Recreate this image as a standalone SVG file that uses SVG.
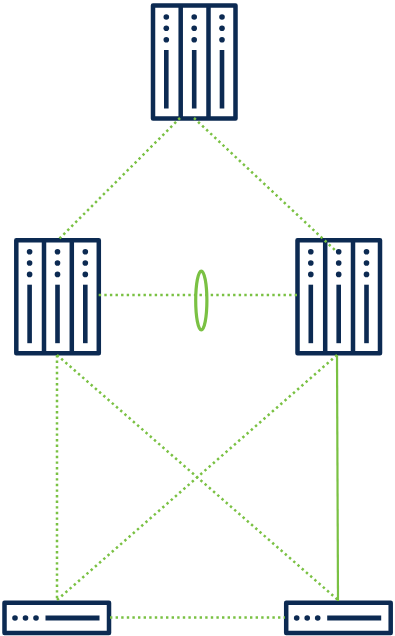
<svg xmlns="http://www.w3.org/2000/svg" width="395" height="636" viewBox="0 0 395 636">
<style>
.f{fill:none;stroke:#0c2a52;stroke-width:4.500;stroke-linejoin:round}
.d{fill:#0c2a52}
.l{fill:none;stroke:#7ac143;stroke-width:2.500;stroke-dasharray:2.400 3.200}
.s{fill:none;stroke:#7ac143;stroke-width:2.200}
.e{fill:none;stroke:#7ac143;stroke-width:3.200}
</style>
<defs>
<g id="rack">
<rect class="f" x="153" y="5.500" width="82.500" height="113"/>
<path class="f" d="M180.700 5.500V118.500M208.500 5.500V118.500"/>
<g class="d">
<circle cx="166.300" cy="17" r="2.800"/><circle cx="166.300" cy="28.300" r="2.800"/><circle cx="166.300" cy="39.700" r="2.800"/>
<circle cx="194.200" cy="17" r="2.800"/><circle cx="194.200" cy="28.300" r="2.800"/><circle cx="194.200" cy="39.700" r="2.800"/>
<circle cx="222" cy="17" r="2.800"/><circle cx="222" cy="28.300" r="2.800"/><circle cx="222" cy="39.700" r="2.800"/>
<rect x="164" y="50" width="4.600" height="58.500"/>
<rect x="191.900" y="50" width="4.600" height="58.500"/>
<rect x="219.700" y="50" width="4.600" height="58.500"/>
</g>
</g>
<g id="switch">
<rect class="f" x="4.500" y="602.700" width="104.500" height="30.300"/>
<g class="d">
<circle cx="15" cy="618" r="2.800"/><circle cx="25.500" cy="618" r="2.800"/><circle cx="36" cy="618" r="2.800"/>
<rect x="45.500" y="615.500" width="54" height="5"/>
</g>
</g>
</defs>
<g id="node-top"><use href="#rack"/></g>
<g id="node-left"><use href="#rack" x="-136.700" y="234.700"/></g>
<g id="node-right"><use href="#rack" x="144.500" y="234.700"/></g>
<g id="node-switch-left"><use href="#switch"/></g>
<g id="node-switch-right"><use href="#switch" x="281.700"/></g>
<g id="connectors">
<path class="l" d="M180 118L58 240"/>
<path class="l" d="M194 118L337 252"/>
<path class="l" d="M98.700 295H297"/>
<path class="l" d="M57 355L338 600"/>
<path class="l" d="M337 355L57 600"/>
<path class="l" d="M57 355V600"/>
<path class="s" d="M337 355L338 601"/>
<path class="l" d="M110 617.500H285"/>
<ellipse class="e" cx="201.300" cy="300.500" rx="5.600" ry="29.500"/>
</g>
</svg>
